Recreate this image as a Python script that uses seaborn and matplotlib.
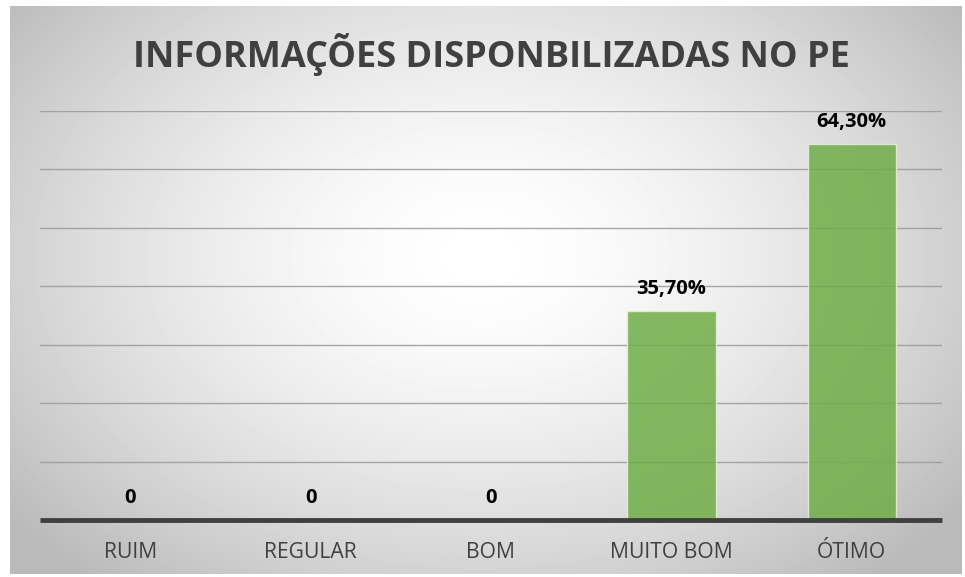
import matplotlib
matplotlib.use("Agg")
import matplotlib.pyplot as plt
import numpy as np
import pandas as pd
import seaborn as sns

categories = ["RUIM", "REGULAR", "BOM", "MUITO BOM", "ÓTIMO"]
values = [0, 0, 0, 35.7, 64.3]
labels = ["0", "0", "0", "35,70%", "64,30%"]
title = "INFORMAÇÕES DISPONBILIZADAS NO PE"

df = pd.DataFrame({"categoria": categories, "valor": values})

sns.set_style("white")
plt.rcParams["font.family"] = ["Open Sans", "DejaVu Sans"]

fig = plt.figure(figsize=(9.65, 5.77), dpi=100)

# radial gradient panel behind the chart
bg = fig.add_axes([10 / 965, 3 / 577, 952 / 965, 568 / 577], zorder=0)
yy, xx = np.mgrid[0:568, 0:952]
cx, cy = 470, 250
r = np.sqrt(((xx - cx) / 600) ** 2 + ((yy - cy) / 420) ** 2)
shade = 1 - 0.27 * np.clip(r, 0, 1) ** 1.6
bg.imshow(shade, cmap="gray", vmin=0, vmax=1, aspect="auto", interpolation="bilinear")
bg.set_axis_off()

ax = fig.add_axes([40 / 965, 57 / 577, 902 / 965, 409 / 577], zorder=1)
ax.patch.set_alpha(0)
sns.barplot(data=df, x="categoria", y="valor", ax=ax, color="#70ad47",
            width=0.49, saturation=1, alpha=0.85, edgecolor="#e8f0e0",
            linewidth=1, zorder=3)
ax.set_ylim(0, 70)
ax.set_xlim(-0.5, 4.5)
ax.set_yticks(np.arange(10, 71, 10))
ax.yaxis.grid(True, color="#999999", linewidth=1.0, alpha=0.85, zorder=1)
ax.set_axisbelow(True)
ax.axhline(0, color="#404040", linewidth=3.5, zorder=4, clip_on=False,
           solid_capstyle="butt")
for s in ax.spines.values():
    s.set_visible(False)
ax.tick_params(left=False, labelleft=False, bottom=False, length=0, pad=16)
for t in ax.get_xticklabels():
    t.set_fontsize(15.2)
    t.set_color("#404040")
ax.set_xlabel("")
ax.set_ylabel("")

for i, (v, lab) in enumerate(zip(values, labels)):
    ax.annotate(lab, xy=(i, v), xytext=(0, 16), textcoords="offset points",
                ha="center", va="center", fontsize=14.5, fontweight="bold",
                color="black", zorder=5)

fig.text(491 / 965, 1 - 55 / 577, title, ha="center", va="center",
         fontsize=26, fontweight="bold", color="#404040")

fig.savefig("out.png", dpi=100)
